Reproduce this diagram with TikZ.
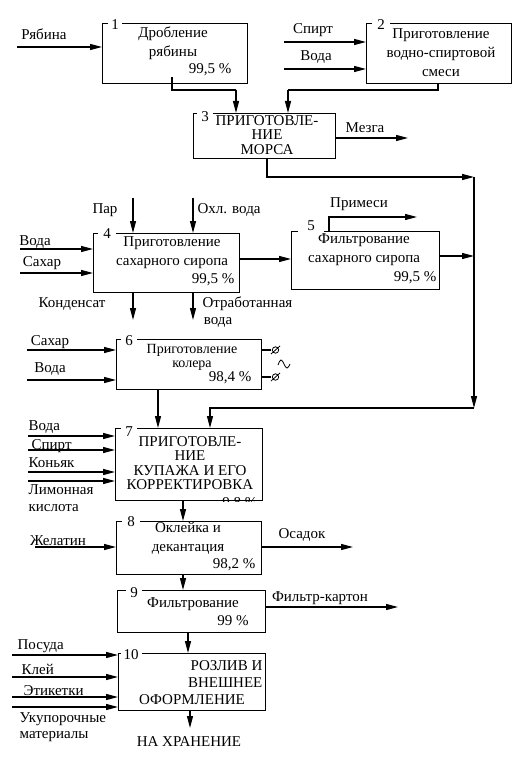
\documentclass[tikz,border=0pt]{standalone}
\usepackage{fontspec}
\setmainfont{Liberation Serif}
\usetikzlibrary{arrows.meta,calc}
\tikzstyle{every node}=[inner sep=0pt, font=\fontsize{15}{19}\selectfont]
\tikzset{blok/.style={draw, anchor=north west}}
\tikzset{nom/.style={fill=white, inner xsep=3pt, inner ysep=1.5pt}}
\tikzset{txt/.style={align=center}}
\tikzset{caps/.style={align=center, font=\fontsize{15}{14.5}\selectfont}}
\tikzset{pot/.style={-{Triangle[length=12pt,width=6pt]}}}

\begin{document}
\begin{tikzpicture}[x=1pt,y=-1pt,line width=1.3pt]
    \useasboundingbox (0,0) rectangle (525,759);
    \node[blok, minimum width=145, minimum height=60] (b1) at (102,23) {};
    \node[blok, minimum width=145, minimum height=60] (b2) at (366,23) {};
    \node[blok, minimum width=142, minimum height=45] (b3) at (193,113) {};
    \node[blok, minimum width=146, minimum height=59] (b4) at (93,233) {};
    \node[blok, minimum width=148, minimum height=58] (b5) at (291,231) {};
    \node[blok, minimum width=145, minimum height=50] (b6) at (116,339) {};
    \node[blok, minimum width=147, minimum height=72] (b7) at (115,428) {};
    \node[blok, minimum width=145, minimum height=53] (b8) at (116,521) {};
    \node[blok, minimum width=148, minimum height=42] (b9) at (117,590) {};
    \node[blok, minimum width=147, minimum height=57] (b10) at (118,653) {};

    \node[nom] (n1) at (115,25) {1};
    \node[nom, minimum width=18] (n2) at (381,25) {2};
    \node[nom, minimum width=16] (n3) at (205,117) {3};
    \node[nom, minimum width=18] (n4) at (107,234) {4};
    \node[nom, minimum width=26] (n5) at (311,226) {5};
    \node[nom, minimum width=16] (n6) at (129,341) {6};
    \node[nom, minimum width=16] (n7) at (129,432) {7};
    \node[nom, minimum width=18] (n8) at (131,522) {8};
    \node[nom, minimum width=16] (n9) at (134,593) {9};
    \node[nom, minimum width=20] (n10) at (131,655) {10};

    \node[txt] (t1) at (173,43) {Дробление\\рябины};
    \node (p1) at (210,70) {99,5 \%};
    \node[txt] (t2) at (441,53) {Приготовление\\водно-спиртовой\\смеси};
    \node[caps] (t3) at (267,135) {ПРИГОТОВЛЕ-\\НИЕ\\МОРСА};
    \node[txt] (t4) at (172,253) {Приготовление\\сахарного сиропа};
    \node (p4) at (213,280) {99,5 \%};
    \node[txt] (t5) at (364,250) {Фильтрование\\сахарного сиропа};
    \node (p5) at (415,278) {99,5 \%};
    \node[txt, font=\fontsize{14}{14}\selectfont] (t6) at (192,357) {Приготовление\\колера};
    \node (p6) at (230,378) {98,4 \%};
    \node[caps] (t7) at (190,463) {ПРИГОТОВЛЕ-\\НИЕ\\КУПАЖА И ЕГО\\КОРРЕКТИРОВКА};
    \begin{scope}
      \clip (b7.north west) rectangle (b7.south east);
      \node[anchor=east] (p7) at (258,504) {9,8 \%};
    \end{scope}
    \node[txt] (t8) at (188,538) {Оклейка и\\декантация};
    \node (p8) at (234,565) {98,2 \%};
    \node (t9) at (193,604) {Фильтрование};
    \node (p9) at (233,621) {99 \%};
    \node[caps, align=right, anchor=east, font=\fontsize{15}{17}\selectfont] (t10) at (263,674) {РОЗЛИВ И\\ВНЕШНЕЕ};
    \node (t10b) at (192,700) {ОФОРМЛЕНИЕ};

    \node (l1) at (44,34) {Рябина};
    \node (l2) at (313,30) {Спирт};
    \node (l3) at (316,57) {Вода};
    \node (l4) at (365,128) {Мезга};
    \node (l5) at (105,210) {Пар};
    \node[anchor=west] (l6) at (197,210) {Охл. вода};
    \node (l7) at (35,242) {Вода};
    \node (l8) at (42,263) {Сахар};
    \node (l9) at (72,304) {Конденсат};
    \node[anchor=west] (l10) at (202,304) {Отработанная};
    \node (l11) at (218,322) {вода};
    \node (l12) at (359,204) {Примеси};
    \node (l13) at (50,342) {Сахар};
    \node (l14) at (50,369) {Вода};
    \node[anchor=west] (l15) at (28,427) {Вода};
    \node[anchor=west] (l16) at (31,446) {Спирт};
    \node[anchor=west] (l17) at (28,463) {Коньяк};
    \node[anchor=west] (l18) at (28,490) {Лимонная};
    \node[anchor=west] (l19) at (28,508) {кислота};
    \node (l20) at (58,541) {Желатин};
    \node (l21) at (302,535) {Осадок};
    \node (l22) at (320,598) {Фильтр-картон};
    \node[anchor=west] (l23) at (17,646) {Посуда};
    \node[anchor=west] (l24) at (21,669) {Клей};
    \node[anchor=west] (l25) at (23,691) {Этикетки};
    \node[anchor=west] (l26) at (19,719) {Укупорочные};
    \node[anchor=west] (l27) at (19,737) {материалы};
    \node (l28) at (189,742) {НА ХРАНЕНИЕ};

    \coordinate (r1) at (17,47);
    \coordinate (r2) at (284,42);
    \coordinate (r3) at (284,69);
    \coordinate (s1) at (172,77);
    \coordinate (s2) at (236,90);
    \coordinate (s3) at (438,90);
    \coordinate (s4) at (288,90);
    \coordinate (m1) at (408,138);
    \coordinate (k1) at (267,177);
    \coordinate (k2) at (474,177);
    \coordinate (k3) at (474,408);
    \coordinate (k4) at (210,408);
    \coordinate (v1) at (133,198);
    \coordinate (v2) at (193,198);
    \coordinate (v3) at (20,249);
    \coordinate (v4) at (20,273);
    \coordinate (v5) at (133,320);
    \coordinate (v6) at (193,320);
    \coordinate (y4) at (0,259);
    \coordinate (y5) at (0,256);
    \coordinate (f1) at (329,217);
    \coordinate (f2) at (417,217);
    \coordinate (c1) at (27,350);
    \coordinate (c2) at (27,380);
    \coordinate (e1) at (271,350);
    \coordinate (e2) at (271,377);
    \coordinate (w6) at (158,389);
    \coordinate (u1) at (28,436);
    \coordinate (u2) at (28,450);
    \coordinate (u3) at (28,472);
    \coordinate (u4) at (28,481);
    \coordinate (w7) at (183,500);
    \coordinate (g1) at (35,547);
    \coordinate (g2) at (353,547);
    \coordinate (w8) at (183,574);
    \coordinate (g3) at (398,607);
    \coordinate (w9) at (188,632);
    \coordinate (h1) at (12,655);
    \coordinate (h2) at (12,677);
    \coordinate (h3) at (12,697);
    \coordinate (h4) at (12,707);
    \coordinate (x1) at (190,728);

    \draw[pot] (r1) -- (r1 -| b1.west);
    \draw[pot] (r2) -- (r2 -| b2.west);
    \draw[pot] (r3) -- (r3 -| b2.west);
    \draw (s1) -- (s1 |- s2) -- (s2);
    \draw[pot] (s2) -- (s2 |- b3.north);
    \draw (s3 |- b2.south) -- (s3) -- (s4);
    \draw[pot] (s4) -- (s4 |- b3.north);
    \draw[pot] (m1 -| b3.east) -- (m1);
    \draw[pot] (k1 |- b3.south) -- (k1) -- (k2);
    \draw[pot] (k2) -- (k3);
    \draw[pot] (k3) -- (k4) -- (k4 |- b7.north);
    \draw[pot] (v1) -- (v1 |- b4.north);
    \draw[pot] (v2) -- (v2 |- b4.north);
    \draw[pot] (v3) -- (v3 -| b4.west);
    \draw[pot] (v4) -- (v4 -| b4.west);
    \draw[pot] (v5 |- b4.south) -- (v5);
    \draw[pot] (v6 |- b4.south) -- (v6);
    \draw[pot] (y4 -| b4.east) -- (y4 -| b5.west);
    \draw[pot] (f1 |- b5.north) -- (f1) -- (f2);
    \draw[pot] (y5 -| b5.east) -- (y5 -| k2);
    \draw[pot] (c1) -- (c1 -| b6.west);
    \draw[pot] (c2) -- (c2 -| b6.west);
    \draw (e1 -| b6.east) -- (e1);
    \draw (e2 -| b6.east) -- (e2);
    \draw[line width=0.8pt] ($(e1)+(4.5,0)$) circle (3.2) ($(e1)+(0,4)$) -- ($(e1)+(9,-4)$);
    \draw[line width=0.8pt] ($(e2)+(4.5,0)$) circle (3.2) ($(e2)+(0,4)$) -- ($(e2)+(9,-4)$);
    \draw[line width=0.8pt] (278,365) sin (281,360) cos (284,364) sin (287,368) cos (290,364);
    \draw[pot] (w6) -- (w6 |- b7.north);
    \draw[pot] (u1) -- (u1 -| b7.west);
    \draw[pot] (u2) -- (u2 -| b7.west);
    \draw[pot] (u3) -- (u3 -| b7.west);
    \draw[pot] (u4) -- (u4 -| b7.west);
    \draw[pot] (w7) -- (w7 |- b8.north);
    \draw[pot] (g1) -- (g1 -| b8.west);
    \draw[pot] (g2 -| b8.east) -- (g2);
    \draw[pot] (w8) -- (w8 |- b9.north);
    \draw[pot] (g3 -| b9.east) -- (g3);
    \draw[pot] (w9) -- (w9 |- b10.north);
    \draw[pot] (h1) -- (h1 -| b10.west);
    \draw[pot] (h2) -- (h2 -| b10.west);
    \draw[pot] (h3) -- (h3 -| b10.west);
    \draw[pot] (h4) -- (h4 -| b10.west);
    \draw[pot] (x1 |- b10.south) -- (x1);
  \end{tikzpicture}
\end{document}
